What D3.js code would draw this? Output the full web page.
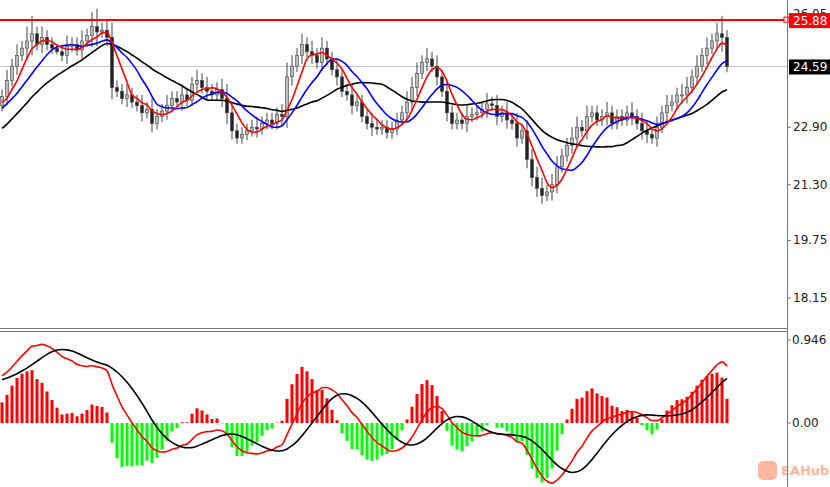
<!DOCTYPE html>
<html>
<head>
<meta charset="utf-8">
<script src="https://d3js.org/d3.v7.min.js"></script>
<style>
  body { margin: 0; background: #fff; font-family: Tahoma, "DejaVu Sans", sans-serif; }
  svg text { font-size: 12px; }
</style>
</head>
<body>
<svg id="chart" width="830" height="487"></svg>
<script>
"use strict";
// closes before the visible window (only feed the averages)
var preCloses = [21.6, 21.8, 21.7, 22.0, 22.1, 22.3, 22.2, 22.5, 22.7, 22.8,
                 23.0, 22.9, 23.2, 23.4, 23.3, 23.5, 23.6, 23.4, 23.7, 23.5];
var closes = [
  23.75,24.2,24.6,24.9,25.1,25.3,25.5,25.2,25.4,25.2,
  25.1,25.0,24.9,25.15,25.2,25.05,25.3,25.45,25.7,25.55,
  25.6,25.4,24.0,23.9,23.7,23.8,23.6,23.5,23.3,23.4,
  23.0,23.2,23.35,23.5,23.7,23.6,23.8,23.65,24.1,24.2,
  24.0,23.9,23.8,23.95,23.7,23.3,22.8,22.6,22.7,22.8,
  22.9,22.85,23.0,23.1,23.0,23.25,23.2,24.3,24.6,24.9,
  25.2,25.0,24.9,24.7,25.1,24.8,24.5,24.3,23.9,23.8,
  23.5,23.6,23.2,23.0,22.9,22.85,22.9,22.75,22.85,23.1,
  23.3,23.6,24.0,24.4,24.7,24.8,24.6,24.3,23.9,23.3,
  23.0,23.1,23.0,23.2,23.25,23.3,23.4,23.55,23.5,23.2,
  23.3,23.1,23.0,22.6,22.8,22.0,21.5,21.2,21.0,21.1,
  21.3,21.8,22.1,22.4,22.6,22.9,22.8,23.2,23.3,23.1,
  23.2,23.3,23.0,23.2,23.1,23.3,23.2,23.0,22.8,22.7,
  22.6,22.9,23.3,23.5,23.6,23.8,23.8,24.0,24.3,24.6,
  24.9,25.1,25.3,25.5,25.4,24.59
];
var wicks = [
  0.2,0.3,0.2,0.3,0.2,0.4,0.5,0.2,0.3,0.2,
  0.2,0.1,0.2,0.3,0.2,0.2,0.3,0.2,0.4,0.5,
  0.2,0.3,0.4,0.2,0.2,0.3,0.2,0.2,0.3,0.2,
  0.3,0.2,0.2,0.3,0.2,0.2,0.3,0.2,0.2,0.3,
  0.2,0.3,0.2,0.2,0.3,0.4,0.3,0.2,0.2,0.2,
  0.2,0.3,0.2,0.2,0.2,0.2,0.3,0.4,0.3,0.2,
  0.3,0.2,0.3,0.2,0.3,0.2,0.2,0.3,0.2,0.2,
  0.3,0.2,0.2,0.2,0.3,0.2,0.2,0.2,0.2,0.2,
  0.2,0.3,0.3,0.3,0.2,0.3,0.2,0.3,0.2,0.3,
  0.2,0.2,0.2,0.3,0.2,0.2,0.2,0.3,0.2,0.3,
  0.2,0.3,0.2,0.3,0.2,0.3,0.3,0.3,0.3,0.2,
  0.3,0.3,0.2,0.2,0.3,0.3,0.2,0.3,0.2,0.2,
  0.2,0.3,0.2,0.2,0.2,0.2,0.3,0.2,0.3,0.3,
  0.2,0.3,0.2,0.3,0.2,0.2,0.3,0.3,0.2,0.3,
  0.2,0.3,0.2,0.3,0.5,0.2
];
var priceTicks = [26.05, 22.90, 21.30, 19.75, 18.15];
var oscTicks = [0.946, 0.00];
var resistance = 25.88;
var lastPrice = 24.59;

var svg = d3.select("#chart");
var W = 787, mainH = 328, oscTop = 331, H = 487;

var x = d3.scaleLinear().domain([0, closes.length - 1]).range([2, 727]);
var y = d3.scaleLinear().domain([18.15, 26.05]).range([298, 14]);
var yo = d3.scaleLinear().domain([0, 0.946]).range([423, 340]);

var all = preCloses.concat(closes), off = preCloses.length;
function sma(arr, n) { return arr.map(function(d, i) { return i < n - 1 ? null : d3.mean(arr.slice(i - n + 1, i + 1)); }); }
function ema(arr, n) { var k = 2 / (n + 1), p = arr[0]; return arr.map(function(d) { p = p + k * (d - p); return p; }); }

var candles = closes.map(function(c, i) {
  var o = all[off + i - 1], w = wicks[i];
  return { i: i, o: o, c: c, h: Math.max(o, c) + w, l: Math.min(o, c) - w * 0.8 };
});

// last price line
svg.append("line").attr("x1", 0).attr("x2", W).attr("y1", y(lastPrice)).attr("y2", y(lastPrice))
  .attr("stroke", "#c8c8c8");

// candles
var cg = svg.append("g");
cg.selectAll("line").data(candles).enter().append("line")
  .attr("x1", function(d) { return x(d.i); }).attr("x2", function(d) { return x(d.i); })
  .attr("y1", function(d) { return y(d.h); }).attr("y2", function(d) { return y(d.l); })
  .attr("stroke", "#444");
cg.selectAll("rect").data(candles).enter().append("rect")
  .attr("x", function(d) { return x(d.i) - 1.5; }).attr("width", 3)
  .attr("y", function(d) { return y(Math.max(d.o, d.c)); })
  .attr("height", function(d) { return Math.max(1, Math.abs(y(d.o) - y(d.c))); })
  .attr("fill", function(d) { return d.c >= d.o ? "#bbb" : "#222"; })
  .attr("stroke", "#444").attr("stroke-width", 0.6);

// moving averages
function maLine(vals, color) {
  var pts = vals.slice(off).map(function(v, i) { return [i, v]; });
  svg.append("path").datum(pts)
    .attr("d", d3.line().x(function(d) { return x(d[0]); }).y(function(d) { return y(d[1]); }).curve(d3.curveMonotoneX))
    .attr("fill", "none").attr("stroke", color).attr("stroke-width", 1.6);
}
maLine(sma(all, 20), "#000");
maLine(sma(all, 10), "#0000ff");
maLine(sma(all, 5), "#ff0000");

// resistance line
svg.append("line").attr("x1", 0).attr("x2", W).attr("y1", y(resistance)).attr("y2", y(resistance))
  .attr("stroke", "#ff0000").attr("stroke-width", 2);
svg.append("rect").attr("x", W - 3).attr("y", y(resistance) - 3).attr("width", 5).attr("height", 5)
  .attr("fill", "#fff").attr("stroke", "#ff0000");

// oscillator
var eF = ema(all, 12), eS = ema(all, 28);
var macd = eF.map(function(v, i) { return v - eS[i]; });
var sig = sma(macd, 9);
var e4 = ema(all, 4), e10 = ema(all, 10);
var hist = e4.map(function(v, i) { return v - e10[i]; });
var og = svg.append("g");
og.selectAll("rect").data(closes.map(function(c, i) { return { i: i, v: hist[off + i] }; })).enter().append("rect")
  .attr("x", function(d) { return x(d.i) - 1.5; }).attr("width", 3)
  .attr("y", function(d) { return Math.min(yo(d.v), yo(0)); })
  .attr("height", function(d) { return Math.abs(yo(d.v) - yo(0)); })
  .attr("fill", function(d) { return d.v >= 0 ? "#ff0000" : "#00ff00"; });
function oscLine(vals, color) {
  var pts = vals.slice(off).map(function(v, i) { return [i, v]; });
  og.append("path").datum(pts)
    .attr("d", d3.line().x(function(d) { return x(d[0]); }).y(function(d) { return yo(d[1]); }).curve(d3.curveMonotoneX))
    .attr("fill", "none").attr("stroke", color).attr("stroke-width", 1.6);
}
oscLine(macd, "#ff0000");
oscLine(sig, "#000");

// frames
svg.append("line").attr("x1", 0).attr("x2", W).attr("y1", mainH + 0.5).attr("y2", mainH + 0.5).attr("stroke", "#777");
svg.append("line").attr("x1", 0).attr("x2", W).attr("y1", oscTop + 0.5).attr("y2", oscTop + 0.5).attr("stroke", "#777");
svg.append("line").attr("x1", W + 0.5).attr("x2", W + 0.5).attr("y1", 0).attr("y2", H).attr("stroke", "#777");

// price axis
var ax = svg.append("g");
priceTicks.forEach(function(t) {
  ax.append("line").attr("x1", W).attr("x2", W + 4).attr("y1", y(t)).attr("y2", y(t)).attr("stroke", "#777");
  ax.append("text").attr("x", W + 6).attr("y", y(t) + 4).text(t.toFixed(2)).attr("fill", "#222");
});
oscTicks.forEach(function(t) {
  ax.append("line").attr("x1", W).attr("x2", W + 4).attr("y1", yo(t)).attr("y2", yo(t)).attr("stroke", "#777");
  ax.append("text").attr("x", W + 5).attr("y", yo(t) + 4).text(t === 0 ? "0.00" : t.toFixed(3)).attr("fill", "#222");
});
function tag(v, bg) {
  ax.append("rect").attr("x", W + 2).attr("y", y(v) - 7).attr("width", 41).attr("height", 15).attr("fill", bg);
  ax.append("text").attr("x", W + 6).attr("y", y(v) + 5).text(v.toFixed(2)).attr("fill", "#fff");
}
tag(resistance, "#ff0000");
tag(lastPrice, "#000");

// watermark
var wm = svg.append("g").attr("opacity", 0.55);
wm.append("rect").attr("x", 758).attr("y", 461).attr("width", 19).attr("height", 19).attr("rx", 5).attr("fill", "#ff7b52");
wm.append("text").attr("x", 781).attr("y", 475).text("EAHub").attr("fill", "#ff7b52")
  .style("font-size", "13px").style("font-weight", "bold");
</script>
</body>
</html>
